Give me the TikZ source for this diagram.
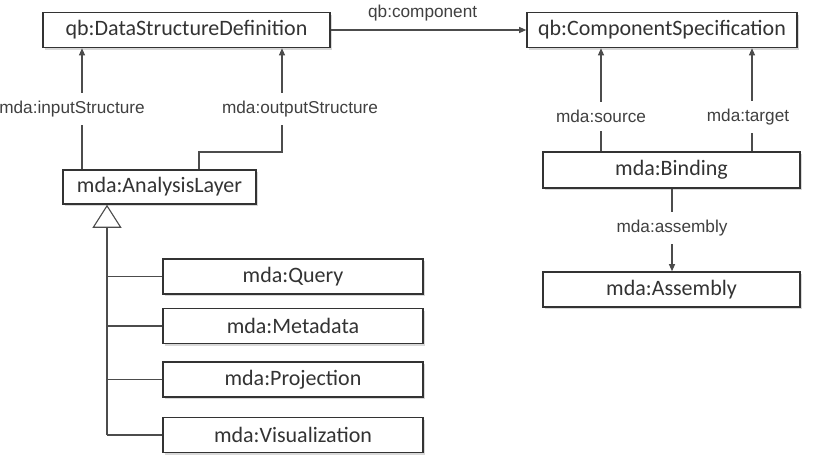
\documentclass[tikz,border=0pt]{standalone}
\usepackage{fontspec}
\setmainfont{Carlito}
\newfontfamily\labelfont{Liberation Sans}
\usetikzlibrary{arrows.meta, positioning, shadows, calc}
\tikzset{
  classbox/.style={rectangle, draw=black!80, fill=white, line width=0.8pt,
                   inner sep=0pt, minimum height=17.5pt, text=black!80,
                   font=\fontsize{11}{13}\selectfont,
                   drop shadow={shadow xshift=1.2pt, shadow yshift=-1.2pt,
                                fill=black!30}},
  rel/.style={draw=black!70, line width=0.55pt},
  relArr/.style={rel, -{Triangle[length=3.5pt, width=3pt]}},
  genArr/.style={rel, -{Triangle[open, length=11.5pt, width=14.5pt, fill=white]}},
  relLabel/.style={fill=white, inner xsep=1pt, inner ysep=4pt, text=black!75,
                   font=\labelfont\fontsize{8.6}{10}\selectfont},
}

\begin{document}
\begin{tikzpicture}[x=0.5pt, y=-0.5pt]
    \useasboundingbox (0,0) rectangle (819,456);

    %% classes
    \node[classbox, minimum width=143.5pt] (dsd) at (186.5,30) {qb:DataStructureDefinition};
    \node[classbox, minimum width=135pt] (comp) at (662,30) {qb:ComponentSpecification};
    \node[classbox, minimum width=96.5pt, minimum height=17pt] (layer) at (159.5,187) {mda:AnalysisLayer};
    \node[classbox, minimum width=128.5pt, minimum height=18pt] (binding) at (671.5,170) {mda:Binding};
    \node[classbox, minimum width=128.5pt] (assembly) at (671.5,289.5) {mda:Assembly};

    %% subclasses of the analysis layer
    \node[classbox, minimum width=130pt] (query) at (293,276.5) {mda:Query};
    \node[classbox, minimum width=130pt] (metadata) at (293,326) {mda:Metadata};
    \node[classbox, minimum width=130pt] (projection) at (293,379.5) {mda:Projection};
    \node[classbox, minimum width=130pt] (visual) at (293,435) {mda:Visualization};

    %% x positions of the vertical connectors
    \coordinate (inx) at (82,0);
    \coordinate (outa) at (199,0);
    \coordinate (outb) at (282,152);
    \coordinate (srcx) at (601,0);
    \coordinate (tgtx) at (752,0);
    \coordinate (asx) at (672,0);
    \coordinate (genx) at (107,0);

    %% properties
    \draw[relArr] (dsd) -- node[relLabel, above, pos=0.47] {qb:component} (comp);
    \draw[relArr] (layer.north -| inx) -- node[relLabel, xshift=-5pt] {mda:inputStructure} (dsd.south -| inx);
    \draw[relArr] (layer.north -| outa) |- (outb)
          -- node[relLabel, xshift=9pt, yshift=-4.5pt] {mda:outputStructure} (dsd.south -| outb);
    \draw[relArr] (binding.north -| srcx) -- node[relLabel, yshift=-8.5pt] {mda:source} (comp.south -| srcx);
    \draw[relArr] (binding.north -| tgtx) -- node[relLabel, xshift=-2pt, yshift=-8.5pt] {mda:target} (comp.south -| tgtx);
    \draw[relArr] (binding.south -| asx) -- node[relLabel, yshift=1pt] {mda:assembly} (assembly.north -| asx);

    %% generalization
    \draw[genArr] (visual.west -| genx) -- (layer.south -| genx);
    \foreach \n in {query, metadata, projection, visual}
      \draw[rel] (\n.west -| genx) -- (\n.west);
\end{tikzpicture}
\end{document}
